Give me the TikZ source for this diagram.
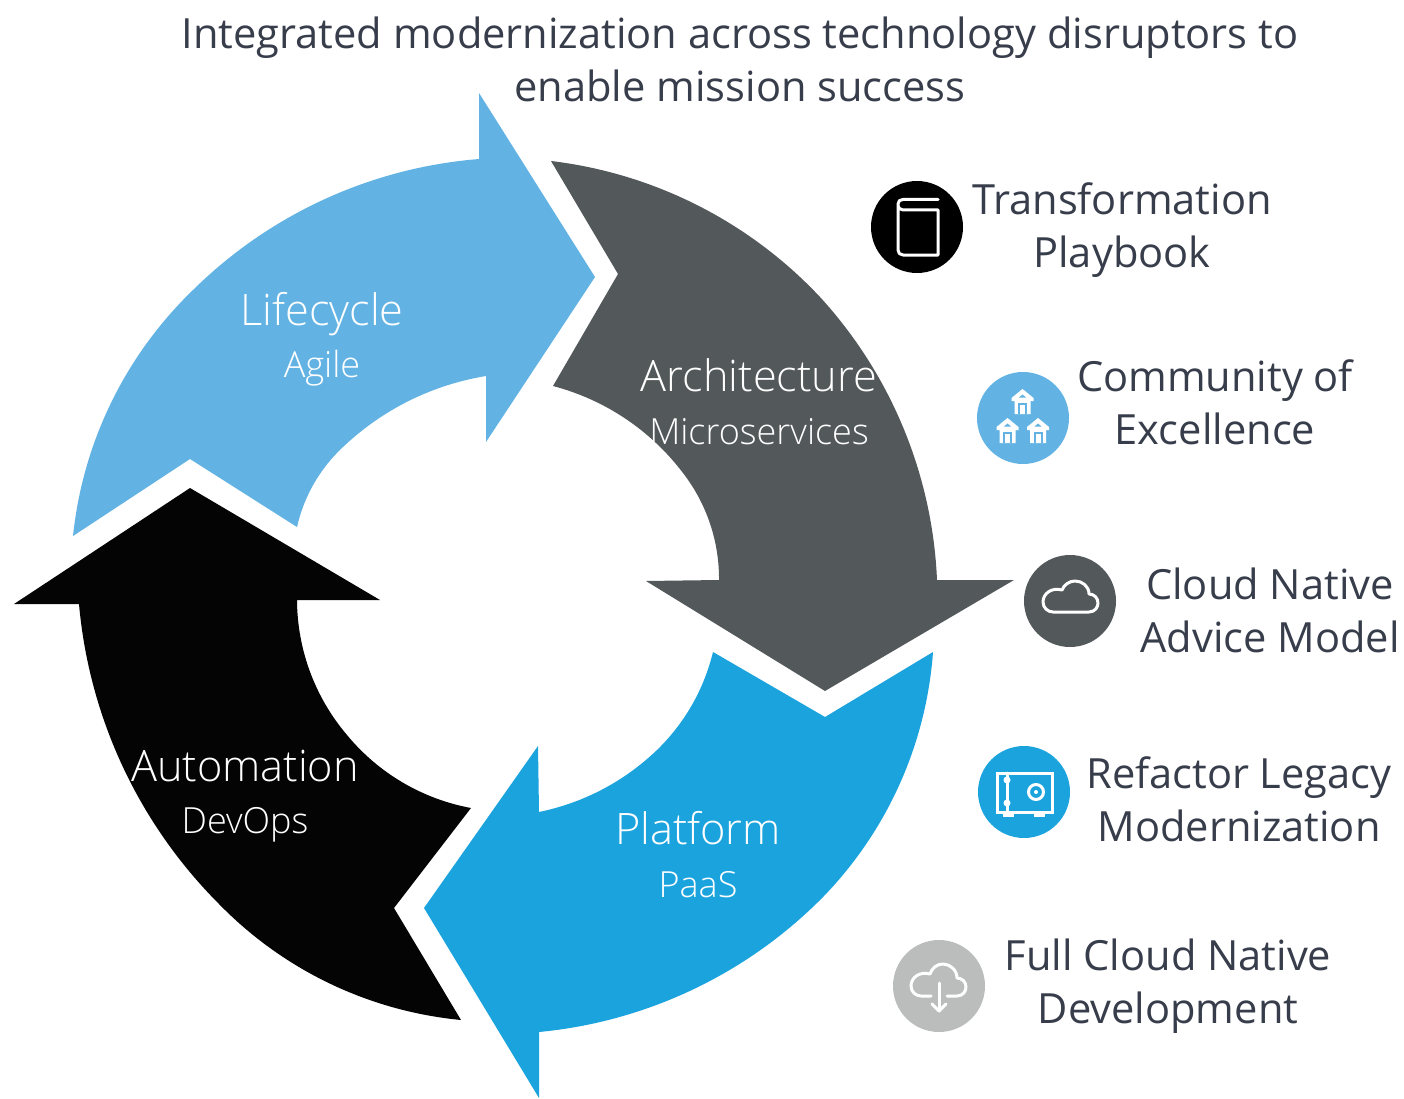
\documentclass[tikz,border=0pt]{standalone}
\usepackage{fontspec}
\setmainfont{Open Sans}
\newfontfamily\lightfont{Open Sans Light}
\usepackage{tikz}
\usetikzlibrary{arrows.meta}

\definecolor{lifecycleblue}{HTML}{62B3E4}
\definecolor{archgray}{HTML}{53585B}
\definecolor{platformblue}{HTML}{1BA3DE}
\definecolor{autoblack}{HTML}{040404}
\definecolor{textdark}{HTML}{373D4A}
\definecolor{fullgray}{HTML}{BBBDBC}

\tikzset{
  caption/.style={align=center,inner sep=0pt,text=textdark,font=\fontsize{41.6}{53}\selectfont},
  ringname/.style={anchor=base,inner sep=0pt,text=white,font=\lightfont\fontsize{43.3}{53}\selectfont},
  ringsub/.style={anchor=base,inner sep=0pt,text=white,font=\lightfont\fontsize{36}{40}\selectfont},
  ringarrow/.style={looseness=.88},
  badge/.style={circle,inner sep=0pt,minimum size=92pt},
  glyph/.style={draw=white,line width=3pt,line join=round,line cap=round},
  house/.pic={
    \fill[white] (0,0) -- (11,9) -- (11,12) -- (8,12) -- (8,25) -- (-8,25) -- (-8,12) -- (-11,12) -- (-11,9) -- cycle;
    \fill[lifecycleblue] (-3.5,8.5) -- (0,5.5) -- (3.5,8.5) -- cycle;
    \draw[lifecycleblue,line width=2pt] (-3.5,25) -- (-3.5,15) -- (3.5,15) -- (3.5,25);
  }
}

\begin{document}
\begin{tikzpicture}[x=1pt,y=-1pt]
  \useasboundingbox (0,0) rectangle (1404,1099);

  \node at (740,59) [caption] (title) {
    Integrated modernization across technology disruptors to\\
    enable mission success
  };

  % the four arrows of the ring
  \fill[lifecycleblue,ringarrow] (73,536) to[bend left=20] (193,290) to[bend left=20] (479,159)
    -- (479,93) -- (595,277) -- (486,442) -- (486,376)
    to[bend right=17] (343,447) to[bend right=17] (297,527) -- (190,459) -- cycle;
  \fill[archgray,ringarrow] (551,161) to[bend left=20] (820,297) to[bend left=20] (937,580)
    -- (1014,580) -- (825,691) -- (646,581) -- (719,580)
    to[bend right=19] (683,473) to[bend right=19] (553,386) -- (618,274) -- cycle;
  \fill[platformblue,ringarrow] (933,652) to[bend left=20] (823,897) to[bend left=20] (539,1032)
    -- (539,1098) -- (424,908) -- (538,746) -- (539,812)
    to[bend right=16] (657,750) to[bend right=16] (713,652) -- (825,717) -- cycle;
  \fill[autoblack,ringarrow] (461,1020) to[bend left=20] (220,905) to[bend left=20] (79,604)
    -- (14,604) -- (190,488) -- (380,600) -- (297,600)
    to[bend right=20] (347,735) to[bend right=20] (471,808) -- (394,908) -- cycle;

  \node at (322,325) [ringname] (lifecycle) {Lifecycle};
  \node at (322,377) [ringsub] (agile) {Agile};
  \node at (759,391) [ringname] (architecture) {Architecture};
  \node at (759,444) [ringsub] (microservices) {Microservices};
  \node at (698,844) [ringname] (platform) {Platform};
  \node at (698,897) [ringsub] (paas) {PaaS};
  \node at (245,781) [ringname] (automation) {Automation};
  \node at (245,833) [ringsub] (devops) {DevOps};

  \node at (917,227) [badge,fill=black] (playbook) {};
  \node at (1023,418) [badge,fill=lifecycleblue] (community) {};
  \node at (1070,601) [badge,fill=archgray] (advice) {};
  \node at (1024,792) [badge,fill=platformblue] (refactor) {};
  \node at (939,986) [badge,fill=fullgray] (development) {};

  \node at (1122,230) [caption] (playbooktext) {Transformation\\Playbook};
  \node at (1215,402) [caption] (communitytext) {Community of\\Excellence};
  \node at (1270,610) [caption] (advicetext) {Cloud Native\\Advice Model};
  \node at (1239,799.5) [caption] (refactortext) {Refactor Legacy\\Modernization};
  \node at (1168,986) [caption] (developmenttext) {Full Cloud Native\\Development};

  % book
  \draw[glyph] (938,199.5) -- (903,199.5) .. controls (900,199.5) and (898,201) .. (898,204)
    -- (898,250) .. controls (898,253) and (900,255) .. (903,255) -- (938,255) -- (938,210)
    -- (903,210) .. controls (900,210) and (898,208) .. (898,204);

  % houses
  \pic at (1022.5,389) {house};
  \pic at (1007.5,418) {house};
  \pic at (1038,418) {house};

  % cloud
  \draw[glyph] (1053,612) -- (1089,612) .. controls (1095,612) and (1098,607) .. (1098,603)
    .. controls (1098,598) and (1094,594) .. (1089,594) .. controls (1089,586) and (1082,581) .. (1075,581)
    .. controls (1069,581) and (1064,585) .. (1062,590) .. controls (1051,587) and (1043,594) .. (1043,602)
    .. controls (1043,608) and (1048,612) .. (1053,612) -- cycle;

  % safe
  \draw[glyph,line join=miter] (997,773) rectangle (1052,812);
  \draw[glyph] (1007,773) -- (1007,812);
  \fill[white] (1007,780) circle (3.5);
  \fill[white] (1007,803) circle (3.5);
  \fill[white] (1003,812) rectangle (1014,817);
  \fill[white] (1034,812) rectangle (1045,817);
  \draw[glyph] (1036,792) circle (7.5);
  \fill[white] (1036,792) circle (2);

  % cloud with arrow
  \draw[glyph] (947,996) -- (957,996) .. controls (963,996) and (966,991) .. (966,987)
    .. controls (966,982) and (962,978) .. (957,978) .. controls (957,970) and (950,964) .. (943,964)
    .. controls (937,964) and (932,968) .. (930,974) .. controls (919,971) and (911,978) .. (911,986)
    .. controls (911,992) and (916,996) .. (921,996) -- (931,996);
  \draw[glyph] (939,983) -- (939,1011);
  \draw[glyph] (932,1004) -- (939,1011) -- (946,1004);
\end{tikzpicture}
\end{document}
